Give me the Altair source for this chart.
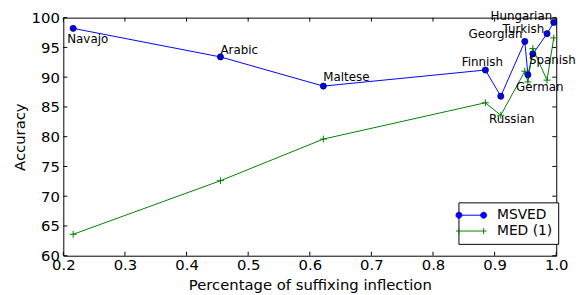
import altair as alt
import pandas as pd

# ---- data ----
langs = ["Navajo", "Arabic", "Maltese", "Finnish", "Russian",
         "Georgian", "German", "Spanish", "Turkish", "Hungarian"]
suffix_pct = [0.216, 0.455, 0.622, 0.885, 0.910, 0.949, 0.954, 0.962, 0.985, 0.996]
msved_acc = [98.2, 93.4, 88.5, 91.2, 86.8, 96.0, 90.4, 93.9, 97.3, 99.2]
med_acc = [63.6, 72.6, 79.6, 85.7, 83.6, 91.0, 89.2, 94.8, 89.5, 96.6]
series_names = ["MSVED", "MED (1)"]
x_ticks = [0.2, 0.3, 0.4, 0.5, 0.6, 0.7, 0.8, 0.9, 1.0]
y_ticks = [60, 65, 70, 75, 80, 85, 90, 95, 100]

# ---- styling / layout ----
W, H = 499, 241
FONT = "DejaVu Sans"
BLUE, GREEN = "#0000ff", "#008000"
X_TITLE = "Percentage of suffixing inflection"
Y_TITLE = "Accuracy"
# label offsets (px) relative to the MSVED point
label_offsets = {
    "Navajo": (-6, 15), "Arabic": (0, -3), "Maltese": (0, -5),
    "Finnish": (-24, -4), "Russian": (-12, 27), "Georgian": (-57, -3),
    "German": (-12, 16), "Spanish": (-4, 10), "Turkish": (-45, -1),
    "Hungarian": (-64, -2),
}
CIRCLE_LEG = ("M-2.5,0L2.5,0 "
              "M-1.9,0A0.6,0.6 0 1,1 -3.1,0A0.6,0.6 0 1,1 -1.9,0 "
              "M3.1,0A0.6,0.6 0 1,1 1.9,0A0.6,0.6 0 1,1 3.1,0")
PLUS_LEG = "M-3.1,0L3.1,0M-2.5,-0.6L-2.5,0.6M2.5,-0.6L2.5,0.6"
PLUS = "M-1,0L1,0M0,-1L0,1"

df = pd.DataFrame({
    "lang": langs * 2,
    "x": suffix_pct * 2,
    "acc": msved_acc + med_acc,
    "series": [series_names[0]] * len(langs) + [series_names[1]] * len(langs),
})
msved_df = df[df.series == series_names[0]]
med_df = df[df.series == series_names[1]]

xs = alt.Scale(domain=[0.2, 1.0], nice=False, zero=False)
ys = alt.Scale(domain=[60, 100], nice=False, zero=False)
x_axis = alt.Axis(values=x_ticks, format=".1f", labelOverlap=False, labelFlush=False)
y_axis = alt.Axis(values=y_ticks, format="d", labelOverlap=False, labelFlush=False)

X = alt.X("x:Q", scale=xs, title=X_TITLE, axis=x_axis)
Y = alt.Y("acc:Q", scale=ys, title=Y_TITLE, axis=y_axis)

base = alt.Chart(df)

line_msved = alt.Chart(msved_df).mark_line(color=BLUE, strokeWidth=1).encode(x=X, y=Y)
line_med = alt.Chart(med_df).mark_line(color=GREEN, strokeWidth=1).encode(x=X, y=Y)
pts_msved = alt.Chart(msved_df).mark_point(
    shape="circle", filled=True, fill=BLUE, stroke="#000000", strokeWidth=0.6,
    size=40, opacity=1).encode(x=X, y=Y)
pts_med = alt.Chart(med_df).mark_point(
    shape=PLUS, filled=False, stroke=GREEN, strokeWidth=1, size=49,
    opacity=1).encode(x=X, y=Y)

legend_layer = base.mark_point(opacity=0, strokeWidth=1).encode(
    x=X, y=Y,
    shape=alt.Shape("series:N", scale=alt.Scale(domain=series_names, range=[CIRCLE_LEG, PLUS_LEG]),
                    legend=alt.Legend(title=None)),
    fill=alt.Fill("series:N", scale=alt.Scale(domain=series_names, range=[BLUE, GREEN]),
                  legend=alt.Legend(title=None)),
    stroke=alt.Stroke("series:N", scale=alt.Scale(domain=series_names, range=[BLUE, GREEN]),
                      legend=alt.Legend(title=None)),
)

label_layers = []
for name, (dx, dy) in label_offsets.items():
    label_layers.append(
        alt.Chart(msved_df).transform_filter(alt.datum.lang == name).mark_text(
            align="left", baseline="alphabetic", dx=dx, dy=dy, font=FONT,
            fontSize=12, color="black").encode(x=X, y=Y, text="lang:N")
    )

tick_df = pd.DataFrame({"xt": x_ticks})
ytick_df = pd.DataFrame({"yt": y_ticks})
tick_x = alt.X("xt:Q", scale=xs, title=X_TITLE, axis=x_axis)
tick_y = alt.Y("yt:Q", scale=ys, title=Y_TITLE, axis=y_axis)
ticks = [
    alt.Chart(tick_df).mark_rule(color="black", strokeWidth=1).encode(
        x=tick_x, y=alt.value(H), y2=alt.value(H - 4)),
    alt.Chart(tick_df).mark_rule(color="black", strokeWidth=1).encode(
        x=tick_x, y=alt.value(0), y2=alt.value(4)),
    alt.Chart(ytick_df).mark_rule(color="black", strokeWidth=1).encode(
        y=tick_y, x=alt.value(0), x2=alt.value(4)),
    alt.Chart(ytick_df).mark_rule(color="black", strokeWidth=1).encode(
        y=tick_y, x=alt.value(W), x2=alt.value(W - 4)),
]

chart = alt.layer(
    line_msved, line_med, pts_msved, pts_med, *label_layers, legend_layer, *ticks
).properties(
    width=W, height=H,
    autosize=alt.AutoSizeParams(type="none"),
    padding={"left": 56, "top": 8, "right": 20, "bottom": 38},
).configure_view(
    stroke="black", strokeWidth=1
).configure_axis(
    grid=False, ticks=False, domain=False, tickSize=0,
    labelOverlap=False, labelFlush=False,
    labelFont=FONT, labelFontSize=15, labelColor="black",
    titleFont=FONT, titleFontSize=15, titleFontWeight="normal", titleColor="black",
).configure_axisX(
    labelPadding=2, titlePadding=5,
).configure_axisY(
    labelPadding=4, titlePadding=4,
).configure_legend(
    orient="none", legendX=400, legendY=187,
    padding=6, strokeColor="black", fillColor="white", cornerRadius=0,
    symbolSize=100, symbolStrokeWidth=1, symbolOpacity=1,
    labelFont=FONT, labelFontSize=14, labelColor="black", labelOffset=19,
    rowPadding=2,
)

chart.save("out.html", embed_options={"renderer": "svg", "actions": False})
